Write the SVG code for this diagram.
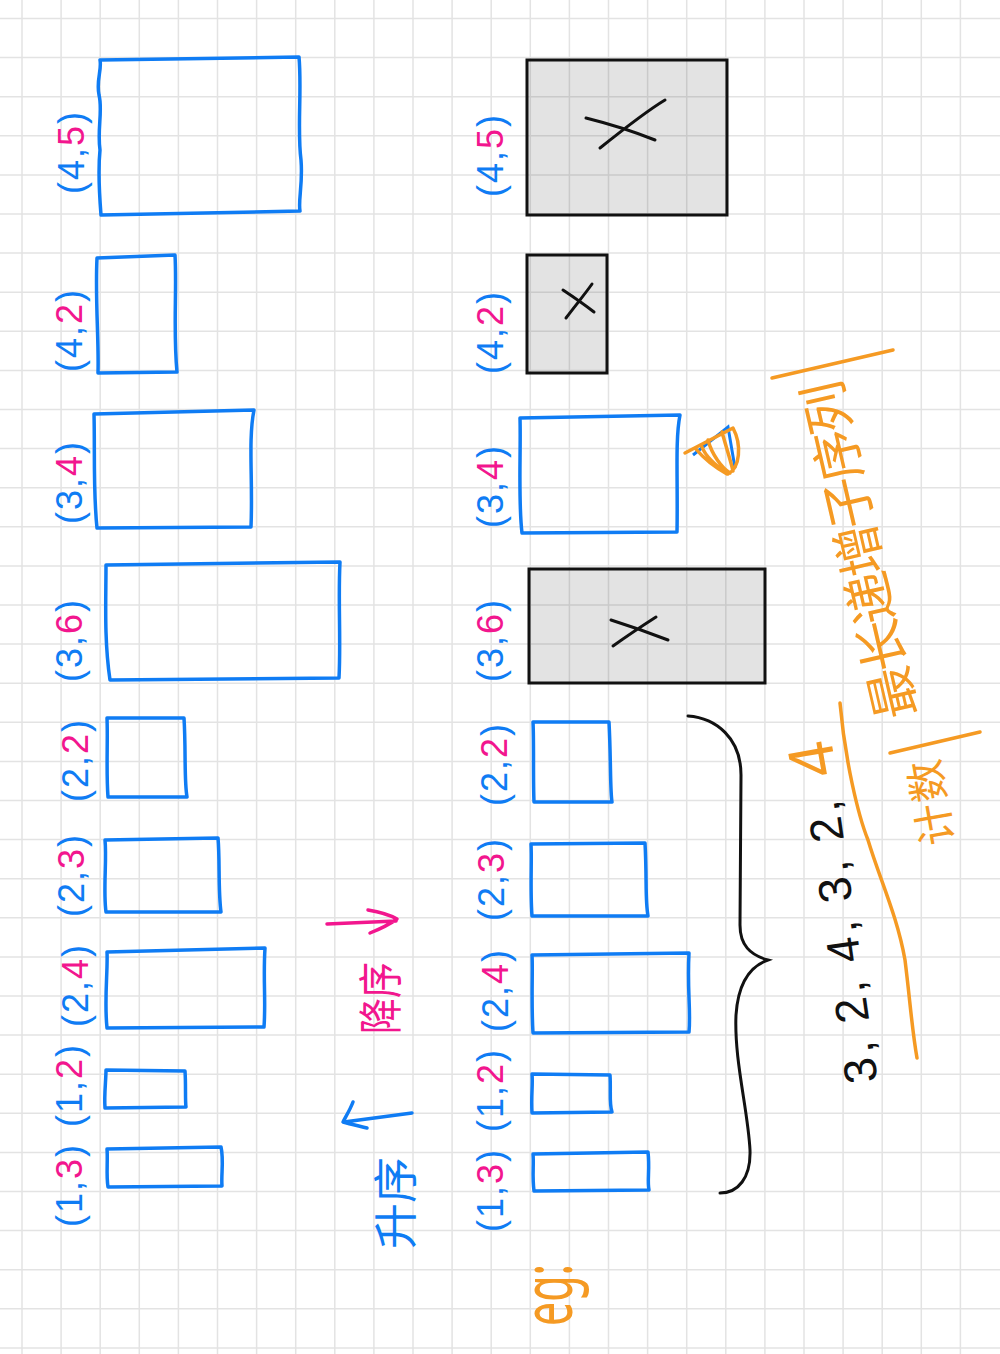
<svg xmlns="http://www.w3.org/2000/svg" width="1000" height="1354" viewBox="0 0 1000 1354">
<style>
.grid{stroke:#e3e3e3;stroke-width:1.5;fill:none}
.bx{fill:none;stroke:#0f7cf4;stroke-width:3.5;stroke-linejoin:round;stroke-linecap:round}
.gb{fill:#000;fill-opacity:0.11;stroke:#111;stroke-width:3}
.xm{fill:none;stroke:#111;stroke-width:3;stroke-linecap:round}
.lbl{font-family:"Liberation Sans","Noto Sans",sans-serif;font-size:36px;fill:#0f7cf4;letter-spacing:2px}
.pk{fill:#f2168e}
.or{fill:none;stroke:#f59a23;stroke-width:3.5;stroke-linecap:round;stroke-linejoin:round}
.ort{font-family:"Noto Sans","Noto Sans CJK SC",sans-serif;fill:#f59a23}
.blk{fill:none;stroke:#111;stroke-width:3;stroke-linecap:round}
.arb{fill:none;stroke:#0f7cf4;stroke-width:3.5;stroke-linecap:round;stroke-linejoin:round}
.arp{fill:none;stroke:#f2168e;stroke-width:3.5;stroke-linecap:round;stroke-linejoin:round}
</style>
<rect width="1000" height="1354" fill="#ffffff"/>
<path class="grid" d="M22,0V1354M61.1,0V1354M100.2,0V1354M139.3,0V1354M178.4,0V1354M217.5,0V1354M256.6,0V1354M295.7,0V1354M334.8,0V1354M373.9,0V1354M413,0V1354M452.1,0V1354M491.2,0V1354M530.3,0V1354M569.4,0V1354M608.5,0V1354M647.6,0V1354M686.7,0V1354M725.8,0V1354M764.9,0V1354M804,0V1354M843.1,0V1354M882.2,0V1354M921.3,0V1354M960.4,0V1354M0,18.5H1000M0,57.6H1000M0,96.7H1000M0,135.8H1000M0,174.9H1000M0,214H1000M0,253.1H1000M0,292.2H1000M0,331.3H1000M0,370.4H1000M0,409.5H1000M0,448.6H1000M0,487.7H1000M0,526.8H1000M0,565.9H1000M0,605H1000M0,644.1H1000M0,683.2H1000M0,722.3H1000M0,761.4H1000M0,800.5H1000M0,839.6H1000M0,878.7H1000M0,917.8H1000M0,956.9H1000M0,996H1000M0,1035.1H1000M0,1074.2H1000M0,1113.3H1000M0,1152.4H1000M0,1191.5H1000M0,1230.6H1000M0,1269.7H1000M0,1308.8H1000M0,1347.9H1000"/>

<!-- left column -->
<g id="L-4-5">
<path class="bx" d="M100,60 L299,57 C302,90 297,130 301,160 C303,185 298,200 300,211 L101,215 C99,190 98,170 100,150 C97,130 103,110 99,95 C96,80 102,70 100,60 Z"/>
<text class="lbl" text-anchor="middle" transform="translate(84,152) rotate(-90)">(4,<tspan class="pk">5</tspan>)</text>
</g>
<g id="L-4-2">
<path class="bx" d="M97,258 L175,255 C177,290 173,330 177,372 L98,373 C99,340 95,300 97,258 Z"/>
<text class="lbl" text-anchor="middle" transform="translate(82,330) rotate(-90)">(4,<tspan class="pk">2</tspan>)</text>
</g>
<g id="L-3-4">
<path class="bx" d="M94,414 L254,410 C248,440 253,480 251,527 L97,528 C93,490 95,450 94,414 Z"/>
<text class="lbl" text-anchor="middle" transform="translate(82,482) rotate(-90)">(3,<tspan class="pk">4</tspan>)</text>
</g>
<g id="L-3-6">
<path class="bx" d="M106,565 L340,562 C338,600 341,640 339,678 L110,680 C104,640 106,600 106,565 Z"/>
<text class="lbl" text-anchor="middle" transform="translate(82,640) rotate(-90)">(3,<tspan class="pk">6</tspan>)</text>
</g>
<g id="L-2-2">
<path class="bx" d="M107,718 L184,718 C186,750 184,780 187,797 L108,797 C106,770 108,740 107,718 Z"/>
<text class="lbl" text-anchor="middle" transform="translate(88,760) rotate(-90)">(2,<tspan class="pk">2</tspan>)</text>
</g>
<g id="L-2-3">
<path class="bx" d="M105,840 L218,838 C220,860 218,890 221,912 L106,912 C103,890 107,860 105,840 Z"/>
<text class="lbl" text-anchor="middle" transform="translate(84,875) rotate(-90)">(2,<tspan class="pk">3</tspan>)</text>
</g>
<g id="L-2-4">
<path class="bx" d="M107,952 L265,948 C263,980 266,1000 264,1027 L107,1028 C104,1000 108,970 107,952 Z"/>
<text class="lbl" text-anchor="middle" transform="translate(88,985) rotate(-90)">(2,<tspan class="pk">4</tspan>)</text>
</g>
<g id="L-1-2">
<path class="bx" d="M106,1070 L185,1071 C186,1085 185,1100 186,1107 L105,1108 C104,1095 106,1080 106,1070 Z"/>
<text class="lbl" text-anchor="middle" transform="translate(82,1085) rotate(-90)">(1,<tspan class="pk">2</tspan>)</text>
</g>
<g id="L-1-3">
<path class="bx" d="M107,1149 L221,1147 C224,1160 221,1175 222,1186 L108,1187 C106,1175 108,1160 107,1149 Z"/>
<text class="lbl" text-anchor="middle" transform="translate(82,1185) rotate(-90)">(1,<tspan class="pk">3</tspan>)</text>
</g>

<!-- right column -->
<g id="R-4-5">
<rect class="gb" x="527" y="60" width="200" height="155"/>
<path class="xm" d="M586,118 C610,124 635,132 655,140 M600,148 C620,132 645,112 665,100"/>
<text class="lbl" text-anchor="middle" transform="translate(503,155) rotate(-90)">(4,<tspan class="pk">5</tspan>)</text>
</g>
<g id="R-4-2">
<rect class="gb" x="527" y="255" width="80" height="118"/>
<path class="xm" d="M563,290 C575,298 585,305 594,312 M566,318 C575,306 585,294 592,284"/>
<text class="lbl" text-anchor="middle" transform="translate(503,332) rotate(-90)">(4,<tspan class="pk">2</tspan>)</text>
</g>
<g id="R-3-4">
<path class="bx" d="M520,418 L680,415 C675,440 678,480 677,532 L522,533 C518,500 521,450 520,418 Z"/>
<path d="M693,455 L728,427 L735,468" fill="none" stroke="#0f7cf4" stroke-width="3"/>
<path class="or" d="M685,453 L733,428 C742,445 740,468 728,474 C715,465 705,455 702,447 M708,440 C712,455 722,468 730,473 M722,432 C727,450 731,462 733,471 M695,448 C705,460 716,468 727,474"/>
<text class="lbl" text-anchor="middle" transform="translate(503,486) rotate(-90)">(3,<tspan class="pk">4</tspan>)</text>
</g>
<g id="R-3-6">
<rect class="gb" x="529" y="569" width="236" height="114"/>
<path class="xm" d="M611,620 C630,626 650,633 668,640 M613,646 C627,636 642,626 656,617"/>
<text class="lbl" text-anchor="middle" transform="translate(503,640) rotate(-90)">(3,<tspan class="pk">6</tspan>)</text>
</g>
<g id="R-2-2">
<path class="bx" d="M533,722 L609,722 C611,760 610,790 612,802 L534,802 C533,780 534,740 533,722 Z"/>
<text class="lbl" text-anchor="middle" transform="translate(507,764) rotate(-90)">(2,<tspan class="pk">2</tspan>)</text>
</g>
<g id="R-2-3">
<path class="bx" d="M531,844 L645,843 C647,880 645,900 648,916 L532,916 C530,890 532,860 531,844 Z"/>
<text class="lbl" text-anchor="middle" transform="translate(504,879) rotate(-90)">(2,<tspan class="pk">3</tspan>)</text>
</g>
<g id="R-2-4">
<path class="bx" d="M532,955 L689,953 C687,990 691,1010 689,1032 L533,1033 C531,1000 533,970 532,955 Z"/>
<text class="lbl" text-anchor="middle" transform="translate(508,990) rotate(-90)">(2,<tspan class="pk">4</tspan>)</text>
</g>
<g id="R-1-2">
<path class="bx" d="M532,1074 L610,1075 C611,1090 609,1105 612,1112 L532,1113 C531,1095 533,1085 532,1074 Z"/>
<text class="lbl" text-anchor="middle" transform="translate(503,1090) rotate(-90)">(1,<tspan class="pk">2</tspan>)</text>
</g>
<g id="R-1-3">
<path class="bx" d="M533,1154 L648,1152 C650,1170 647,1180 649,1190 L534,1191 C532,1175 534,1165 533,1154 Z"/>
<text class="lbl" text-anchor="middle" transform="translate(503,1190) rotate(-90)">(1,<tspan class="pk">3</tspan>)</text>
</g>

<!-- sorting notes -->
<g id="note-desc">
<text font-family="Noto Sans CJK SC,sans-serif" font-size="44" fill="#f2168e" text-anchor="middle" textLength="72" lengthAdjust="spacingAndGlyphs" transform="translate(397,998) rotate(-90)">降序</text>
</g>
<g id="note-asc">
<text font-family="Noto Sans CJK SC,sans-serif" font-size="44" fill="#0f7cf4" text-anchor="middle" textLength="92" lengthAdjust="spacingAndGlyphs" transform="translate(412,1203) rotate(-90)">升序</text>
</g>

<g id="connectors">
<path class="arp" d="M327,924 L396,921 M368,910 C380,912 390,915 397,919 C390,924 380,929 370,933"/>
<path class="arb" d="M412,1113 L344,1122 M353,1102 C350,1110 346,1116 343,1122 C350,1124 359,1126 367,1128"/>
<path class="blk" d="M688,716 C716,718 741,738 741,775 L740,925 C740,945 750,955 768,960 C748,967 738,985 736,1015 C734,1060 748,1110 750,1150 C751,1178 738,1193 720,1193"/>
</g>

<!-- example -->
<g id="example">
<text font-family="Liberation Sans,sans-serif" font-size="46" fill="#111" text-anchor="middle" textLength="285" transform="translate(858,940) rotate(-98)">3, 2, 4, 3, 2,</text>
<text class="ort" font-size="70" text-anchor="middle" textLength="62" lengthAdjust="spacingAndGlyphs" transform="translate(572,1295) rotate(-90)">eg:</text>
</g>
<g id="note-lis">
<path class="or" d="M772,378 L893,350"/>
<path class="or" d="M890,753 L980,732"/>
<path class="or" d="M840,703 C845,760 858,815 868,840 C880,880 897,915 905,960 C910,1000 912,1030 917,1058"/>
<text class="ort" font-size="62" text-anchor="middle" transform="translate(834,756) rotate(-100)">4</text>
<text class="ort" font-size="52" text-anchor="middle" textLength="345" transform="translate(878,546) rotate(-103)">最长递增子序列</text>
<text class="ort" font-size="42" text-anchor="middle" textLength="86" transform="translate(946,800) rotate(-100)">计数</text>
</g>
</svg>
